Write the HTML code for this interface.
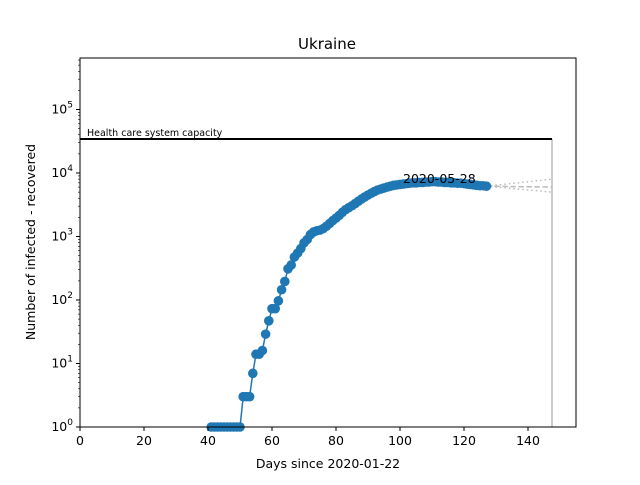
<!DOCTYPE html>
<html><head><meta charset="utf-8"><style>
body{margin:0;background:#fff;font-family:"Liberation Sans","DejaVu Sans",sans-serif}
svg text{font-family:"DejaVu Sans","Liberation Sans",sans-serif}
</style></head><body>
<svg id="c" width="640" height="480" xmlns="http://www.w3.org/2000/svg"></svg>
<script>
const days=[41,42,43,44,45,46,47,48,49,50,51,52,53,54,55,56,57,58,59,60,61,62,63,64,65,66,67,68,69,70,71,72,73,74,75,76,77,78,79,80,81,82,83,84,85,86,87,88,89,90,91,92,93,94,95,96,97,98,99,100,101,102,103,104,105,106,107,108,109,110,111,112,113,114,115,116,117,118,119,120,121,122,123,124,125,126,127];
const values=[1,1,1,1,1,1,1,1,1,1,3,3,3,7,14,14,16,29,47,73,73,97,145,196,310,356,475,548,645,794,897,1072,1180,1230,1260,1330,1450,1600,1780,1950,2150,2400,2650,2850,3050,3300,3600,3900,4200,4500,4800,5100,5400,5600,5800,6000,6200,6400,6500,6600,6700,6800,6900,7000,7000,7100,7100,7200,7200,7300,7300,7200,7200,7100,7100,7000,7000,6900,6900,6800,6700,6600,6500,6400,6300,6300,6200];
const projMid=[6200,6000],projHi=[6200,8000],projLo=[6200,5000];
const projDays=[127,147.5];
const capacity=34300;
const xTicks=[0,20,40,60,80,100,120,140];
const yTicks=[0,1,2,3,4,5];
const L=80,R=576,T=58,B=427;
const X=d=>L+d*3.2;
const Y=v=>B-Math.log10(v)*63.5;
const s=document.getElementById('c');
function el(t,a,txt){const e=document.createElementNS('http://www.w3.org/2000/svg',t);for(const k in a)e.setAttribute(k,a[k]);if(txt!==undefined)e.textContent=txt;s.appendChild(e);return e;}
let e;
e=el('text',{x:327,y:49,'font-size':15,'text-anchor':'middle'},'Ukraine');


e=el('polyline',{points:projDays.map((d,i)=>X(d)+','+Y(projHi[i])).join(' '),fill:'none',stroke:'#bbb','stroke-width':1.5,'stroke-dasharray':'1.5 3'});


e=el('polyline',{points:projDays.map((d,i)=>X(d)+','+Y(projLo[i])).join(' '),fill:'none',stroke:'#bbb','stroke-width':1.5,'stroke-dasharray':'1.5 3'});


e=el('polyline',{points:projDays.map((d,i)=>X(d)+','+Y(projMid[i])).join(' '),fill:'none',stroke:'#bbb','stroke-width':1.5,'stroke-dasharray':'5.5 2.5'});


e=el('line',{x1:X(projDays[1]),x2:X(projDays[1]),y1:Y(capacity),y2:B,stroke:'#bbb','stroke-width':1.5});


e=el('line',{x1:L,x2:X(projDays[1]),y1:Y(capacity),y2:Y(capacity),stroke:'#000','stroke-width':2});


e=el('text',{x:87,y:Y(capacity)-3,'font-size':9.5},'Health care system capacity');


e=el('polyline',{points:days.map((d,i)=>X(d)+','+Y(values[i])).join(' '),fill:'none',stroke:'#1f77b4','stroke-width':1.5});


days.forEach((d,i)=>{const c=el('circle',{cx:X(d),cy:Y(values[i]),r:4.8,fill:'#1f77b4'});

});
e=el('text',{x:403,y:183,'font-size':12.5},'2020-05-28');


e=el('rect',{x:L,y:T,width:R-L,height:B-T,fill:'none',stroke:'#000','stroke-width':1});


xTicks.forEach(t=>{el('line',{x1:X(t),x2:X(t),y1:B,y2:B+4,stroke:'#000'});
const tx=el('text',{x:X(t),y:B+18,'font-size':12.5,'text-anchor':'middle'},t);

});
yTicks.forEach(p=>{const y=Y(Math.pow(10,p));el('line',{x1:L-4,x2:L,y1:y,y2:y,stroke:'#000'});
for(let k=2;k<10;k++){const yy=Y(k*Math.pow(10,p));if(yy>T)el('line',{x1:L-2,x2:L,y1:yy,y2:yy,stroke:'#000','stroke-width':0.6});}
const tx=el('text',{x:L-7,y:y+4,'font-size':12.5,'text-anchor':'end'});


tx.innerHTML='10<tspan dy="-6" font-size="9">'+p+'</tspan>';});
e=el('text',{x:328,y:468,'font-size':12.5,'text-anchor':'middle'},'Days since 2020-01-22');


e=el('text',{x:35,y:242,'font-size':12.5,'text-anchor':'middle',transform:'rotate(-90 35 242)'},'Number of infected - recovered');


</script>
</body></html>
